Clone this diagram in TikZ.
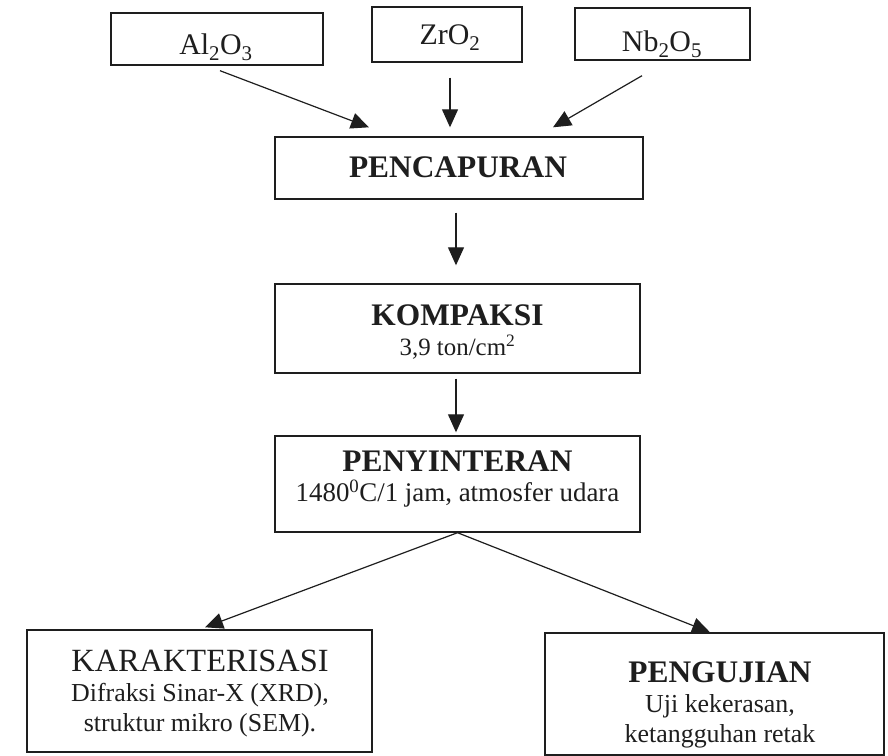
\documentclass[tikz,border=0pt]{standalone}
\usepackage{fontspec}
\setmainfont{Liberation Serif}
\usetikzlibrary{arrows.meta,calc}
\definecolor{ink}{RGB}{30,30,30}
\newcommand{\ttlfnt}{\fontsize{31.5}{30}\selectfont\bfseries}
\newcommand{\ttlreg}{\fontsize{32.5}{30}\selectfont}
\begin{document}
\begin{tikzpicture}[x=1bp,y=-1bp,
  box/.style={draw=ink,line width=1.4bp,inner sep=0pt,rectangle},
  lbl/.style={inner sep=0pt,text=ink,align=center},
  chem/.style={lbl,anchor=base,font=\fontsize{30}{32}\selectfont},
  arr/.style={draw=ink,line width=1.2bp,-{Triangle[length=18bp,width=16bp]}}]
\useasboundingbox (0,0) rectangle (888,756);
\fill[white] (0,0) rectangle (888,756);
% boxes
\node[box,minimum width=212bp,minimum height=52bp] (al) at (217,39) {};
\node[box,minimum width=150bp,minimum height=55bp] (zr) at (447,34.5) {};
\node[box,minimum width=175bp,minimum height=52bp] (nb) at (662.5,34) {};
\node[box,minimum width=368bp,minimum height=62bp] (mix) at (459,168) {};
\node[box,minimum width=365bp,minimum height=89bp] (komp) at (457.5,328.5) {};
\node[box,minimum width=365bp,minimum height=96bp] (sint) at (457.5,484) {};
\node[box,minimum width=345bp,minimum height=122bp] (kar) at (199.5,691) {};
\node[box,minimum width=339bp,minimum height=122bp] (uji) at (714.5,694) {};
% texts
\node[chem] (alt) at (216,55) {Al\textsubscript{2}O\textsubscript{3}};
\node[chem] (zrt) at (450,45) {ZrO\textsubscript{2}};
\node[chem] (nbt) at (662,52) {Nb\textsubscript{2}O\textsubscript{5}};
\node[lbl,anchor=base,font=\ttlfnt] (mixt) at (458,177.6) {PENCAPURAN};
\node[lbl,anchor=north,font=\fontsize{25}{30}\selectfont] (kompt) at (457.5,305) {{\ttlfnt KOMPAKSI}\\3,9 ton/cm\textsuperscript{2}};
\node[lbl,anchor=north,font=\fontsize{27}{30}\selectfont] (sintt) at (457.5,451) {{\ttlfnt PENYINTERAN}\\1480\textsuperscript{0}C/1 jam, atmosfer udara};
\node[lbl,anchor=north,font=\fontsize{26}{30}\selectfont] (kart) at (200,650) {{\ttlreg KARAKTERISASI}\\Difraksi Sinar-X (XRD),\\struktur mikro (SEM).};
\node[lbl,anchor=north,font=\fontsize{26}{30}\selectfont] (ujit) at (720,662) {{\ttlfnt PENGUJIAN}\\Uji kekerasan,\\ketangguhan retak};
% connectors
\draw[arr] ($(al.south)+(3,5)$) -- ($(mix.north)+(-90,-9)$);
\draw[arr] ($(zr.south)+(3,15)$) -- ($(mix.north)+(-9,-9)$);
\draw[arr] ($(nb.south)+(-20.5,15)$) -- ($(mix.north)+(94,-9)$);
\draw[arr] ($(mix.south)+(-3,13)$) -- ($(komp.north)+(-1.5,-18)$);
\draw[arr] ($(komp.south)+(-1.5,5)$) -- ($(sint.north)+(-1.5,-3)$);
\draw[arr] (sint.south) -- ($(kar.north)+(5.5,-2)$);
\draw[arr] (sint.south) -- ($(uji.north)+(-4.5,0)$);
\end{tikzpicture}
\end{document}
